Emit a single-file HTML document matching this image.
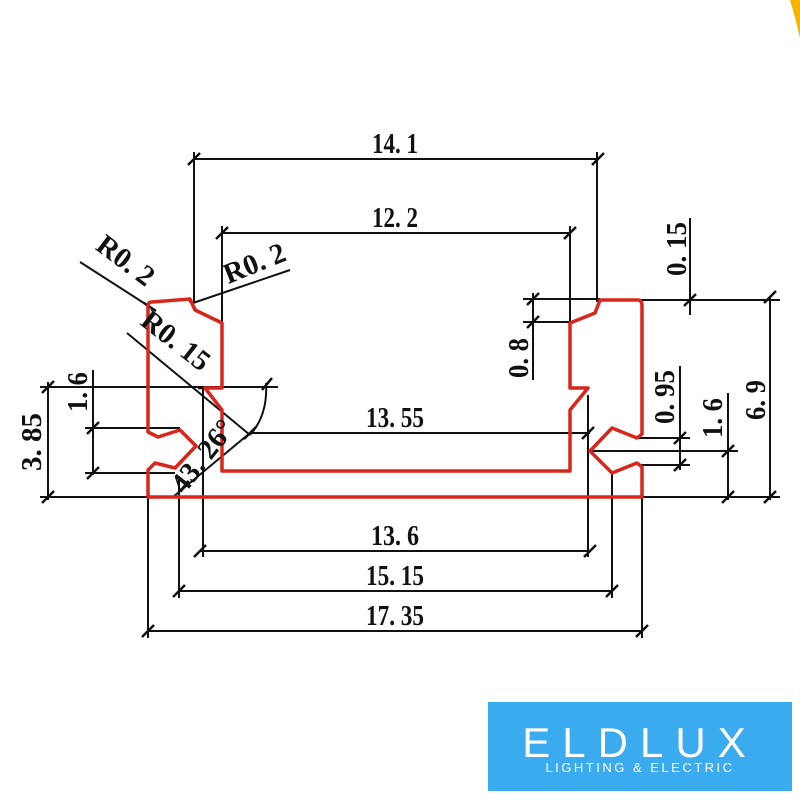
<!DOCTYPE html>
<html><head><meta charset="utf-8"><style>
html,body{margin:0;padding:0;background:#fff;width:800px;height:800px;overflow:hidden}
svg{display:block}
text{font-family:"Liberation Serif",serif;font-weight:bold;font-size:29px;fill:#111}
</style></head><body>
<svg width="800" height="800" viewBox="0 0 800 800" xmlns="http://www.w3.org/2000/svg">
<path d="M790,0 Q796,20 800,38 L800,0 Z" fill="#f5b400"/>
<g stroke="#111" stroke-width="2" fill="none">
<line x1="193" y1="159" x2="598" y2="159"/>
<line x1="194" y1="152" x2="194" y2="302"/>
<line x1="597" y1="152" x2="597" y2="302"/>
<line x1="222" y1="233" x2="570" y2="233"/>
<line x1="222" y1="226" x2="222" y2="323"/>
<line x1="570" y1="226" x2="570" y2="323"/>
<line x1="250" y1="433" x2="590" y2="433"/>
<line x1="588" y1="395" x2="588" y2="452"/>
<line x1="200" y1="551" x2="590" y2="551"/>
<line x1="203" y1="388" x2="203" y2="557"/>
<line x1="588" y1="452" x2="588" y2="557"/>
<line x1="179" y1="591" x2="612" y2="591"/>
<line x1="179" y1="480" x2="179" y2="598"/>
<line x1="612" y1="473" x2="612" y2="598"/>
<line x1="148" y1="631" x2="643" y2="631"/>
<line x1="148" y1="497" x2="148" y2="638"/>
<line x1="642" y1="497" x2="642" y2="638"/>
<line x1="48" y1="382" x2="48" y2="500"/>
<line x1="40" y1="387" x2="278" y2="387"/>
<line x1="40" y1="497" x2="175" y2="497"/>
<line x1="93" y1="370" x2="93" y2="475"/>
<line x1="85" y1="428" x2="180" y2="428"/>
<line x1="85" y1="473" x2="175" y2="473"/>
<line x1="80" y1="262" x2="150" y2="307"/>
<line x1="193" y1="303" x2="290" y2="270"/>
<line x1="127" y1="333" x2="250" y2="435"/>
<line x1="173" y1="497" x2="250" y2="433"/>
<path d="M266,383 Q268,415 250,435"/>
<line x1="533" y1="293" x2="533" y2="380"/>
<line x1="523" y1="299" x2="600" y2="299"/>
<line x1="523" y1="322" x2="572" y2="322"/>
<line x1="690" y1="218" x2="690" y2="315"/>
<line x1="640" y1="300" x2="780" y2="300"/>
<line x1="770" y1="297" x2="770" y2="500"/>
<line x1="640" y1="497" x2="780" y2="497"/>
<line x1="680" y1="366" x2="680" y2="470"/>
<line x1="638" y1="438" x2="690" y2="438"/>
<line x1="638" y1="465" x2="690" y2="465"/>
<line x1="728" y1="393" x2="728" y2="500"/>
<line x1="590" y1="451" x2="738" y2="451"/>
</g>
<g stroke="#111" stroke-width="2.5">
<path d="M188,165 L200,153 M592,165 L604,153 M216,239 L228,227 M564,239 L576,227 M244,439 L256,427 M582,439 L594,427 M194,557 L206,545 M584,557 L596,545 M173,597 L185,585 M606,597 L618,585 M142,637 L154,625 M636,637 L648,625 M42,393 L54,381 M42,503 L54,491 M87,434 L99,422 M87,479 L99,467 M527,305 L539,293 M527,328 L539,316 M684,306 L696,294 M764,303 L776,291 M764,503 L776,491 M674,444 L686,432 M674,471 L686,459 M722,457 L734,445 M722,503 L734,491 M262,390 L272,378 M144,303 L156,311 M188,298 L196,310 M198,388 L210,388"/>
</g>
<path d="M148,306 Q148,302 152,302 L190,299 L195,310 L222,323 L222,388 L205,388 L222,410 L222,471 L570,471 L570,410 L588,388 L570,388 L570,323 L595,313 L600,300 L638,300 Q642,300 642,306 L642,434 L637,438 L612,428 L590,451 L612,473 L637,463 L642,467 L642,497 L148,497 L148,470 L155,463 L175,468 L196,446 L180,430 L158,437 L148,432 Z" fill="none" stroke="#d9261c" stroke-width="3.5" stroke-linejoin="round"/>
<text x="372" y="153" textLength="46" lengthAdjust="spacingAndGlyphs">14. 1</text>
<text x="372" y="227" textLength="46" lengthAdjust="spacingAndGlyphs">12. 2</text>
<text x="366" y="427" textLength="58" lengthAdjust="spacingAndGlyphs">13. 55</text>
<text x="371" y="545" textLength="48" lengthAdjust="spacingAndGlyphs">13. 6</text>
<text x="366" y="585" textLength="58" lengthAdjust="spacingAndGlyphs">15. 15</text>
<text x="366" y="625" textLength="58" lengthAdjust="spacingAndGlyphs">17. 35</text>
<text transform="translate(41,471) rotate(-90)" textLength="58" lengthAdjust="spacingAndGlyphs">3. 85</text>
<text transform="translate(87,412) rotate(-90)" textLength="40" lengthAdjust="spacingAndGlyphs">1. 6</text>
<text transform="translate(528,378) rotate(-90)" textLength="40" lengthAdjust="spacingAndGlyphs">0. 8</text>
<text transform="translate(686,276) rotate(-90)" textLength="54" lengthAdjust="spacingAndGlyphs">0. 15</text>
<text transform="translate(674,424) rotate(-90)" textLength="54" lengthAdjust="spacingAndGlyphs">0. 95</text>
<text transform="translate(722,438) rotate(-90)" textLength="40" lengthAdjust="spacingAndGlyphs">1. 6</text>
<text transform="translate(765,420) rotate(-90)" textLength="40" lengthAdjust="spacingAndGlyphs">6. 9</text>
<text transform="translate(120,268) rotate(37)" text-anchor="middle">R0. 2</text>
<text transform="translate(258,272) rotate(-22)" text-anchor="middle">R0. 2</text>
<text transform="translate(170,348) rotate(38)" text-anchor="middle">R0. 15</text>
<text transform="translate(210,462) rotate(-52)" text-anchor="middle">43. 26°</text>
<rect x="488" y="702" width="304" height="89" fill="#3aabee"/>
<text x="640" y="757" text-anchor="middle" style="font-family:'Liberation Sans',sans-serif;font-weight:normal;font-size:42px;fill:#fff;letter-spacing:12px">ELDLUX</text>
<text x="640" y="772" text-anchor="middle" style="font-family:'Liberation Sans',sans-serif;font-weight:normal;font-size:13px;fill:#fff;letter-spacing:2.5px">LIGHTING &amp; ELECTRIC</text>
</svg>
</body></html>
